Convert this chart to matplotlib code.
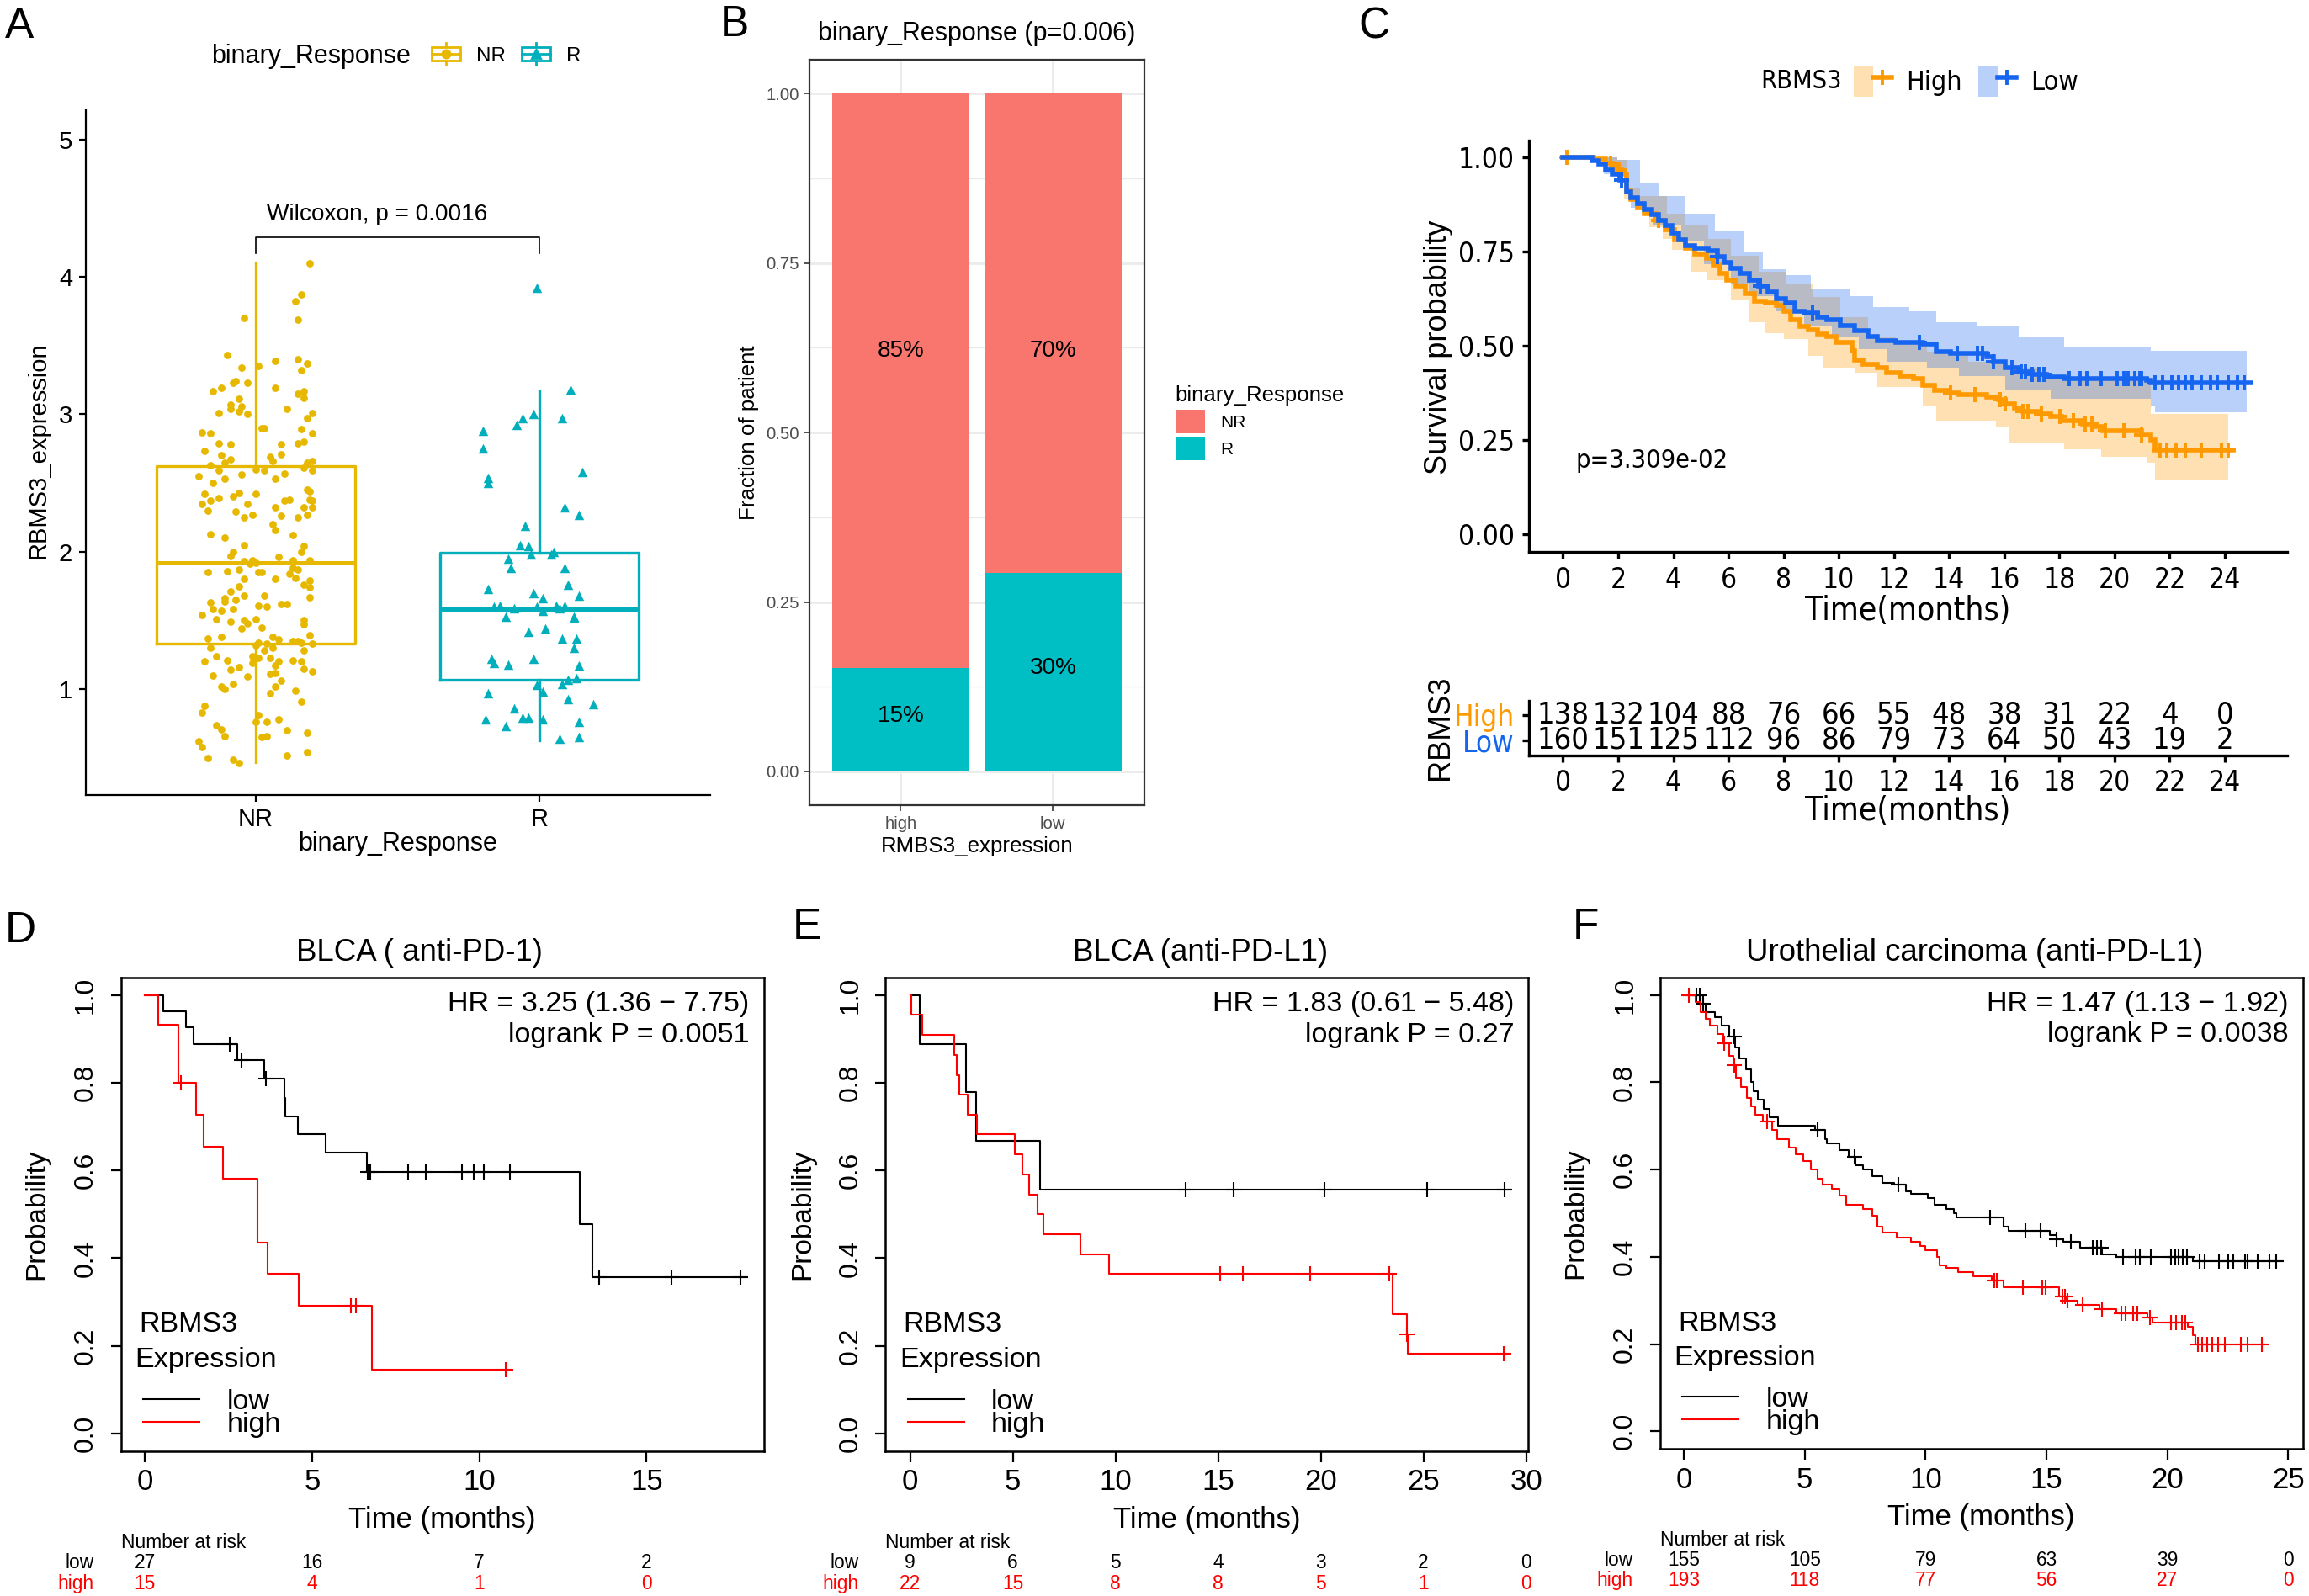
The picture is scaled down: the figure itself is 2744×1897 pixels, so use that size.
import numpy as np
import matplotlib
matplotlib.use("Agg")
import matplotlib.pyplot as plt
from matplotlib import font_manager
from matplotlib.font_manager import FontProperties
from matplotlib.patches import Patch, Rectangle
from matplotlib.lines import Line2D
from matplotlib.legend_handler import HandlerBase, HandlerTuple
from matplotlib.ticker import FixedLocator
from matplotlib.transforms import blended_transform_factory

# ======================= DATA =======================
# ---- Panel A : RBMS3 expression by response ----
a_groups = ['NR', 'R']
a_pvalue = 'Wilcoxon, p = 0.0016'
# box stats: whisker low, Q1, median, Q3, whisker high
nr_box = [0.47, 1.33, 1.92, 2.62, 4.10]
r_box = [0.63, 1.07, 1.58, 1.99, 3.17]
nr_jitter = [0.19, 0.16, 0.14, -0.04, 0.15, -0.10, -0.05, 0.01, 0.07, 0.15, 0.18, 0.16, -0.15, -0.12, -0.08, -0.07,
             -0.03, 0.07, 0.15, 0.17, 0.17, -0.06, -0.09, -0.09, -0.05, -0.06, -0.03, -0.13, 0.11, 0.20, 0.18, -0.19,
             -0.16, 0.02, 0.03, 0.16, 0.20, -0.13, -0.09, 0.09, 0.15, 0.17, -0.18, -0.12, -0.09, -0.11, 0.05, 0.09,
             0.06, 0.18, 0.20, -0.16, -0.13, -0.20, -0.11, -0.05, 0.00, 0.03, 0.10, 0.17, 0.20, 0.07, -0.15, -0.18,
             -0.06, 0.00, -0.13, -0.08, -0.16, -0.19, -0.17, -0.03, -0.07, 0.10, 0.12, 0.07, 0.18, 0.19, 0.19, 0.20,
             0.17, 0.20, 0.18, 0.15, -0.01, -0.04, 0.09,
             0.07, 0.06, -0.16, -0.11, 0.13, -0.04, 0.17, 0.16, -0.08, -0.09, 0.08, -0.04, -0.01, -0.02, 0.00, 0.13,
             0.19, -0.17, -0.10, -0.06, 0.01, 0.02, 0.13, 0.15, 0.12, 0.14, 0.07, -0.04, -0.06, 0.17, 0.19, 0.19,
             -0.09, -0.11, -0.11, -0.07, -0.04, 0.03, 0.19, -0.16, -0.15, -0.12, -0.08, 0.01, 0.04, 0.09, 0.11, -0.19,
             -0.14, -0.09, -0.04, -0.03, -0.05, 0.00, 0.02, 0.17, 0.17, -0.17, -0.12, 0.06, 0.08, 0.19, -0.16, 0.00,
             0.01, 0.04, 0.06, 0.13, 0.15, 0.16, 0.20, 0.17, 0.03, -0.01, 0.01, -0.14, -0.18, -0.10, -0.01, 0.05,
             0.08, 0.07, 0.13, 0.16, 0.17, 0.20, -0.09, -0.06, -0.03, -0.15, 0.05, 0.07, 0.09, 0.07, -0.12, -0.11,
             -0.08, 0.05, 0.14, 0.16, -0.18, -0.19, 0.01, 0.00, 0.04, 0.08, -0.14, -0.12, -0.11, 0.02, 0.04, 0.11,
             0.18, -0.20, -0.19, -0.17, -0.08, -0.06, 0.11, 0.18]
nr_value = [4.10, 3.87, 3.82, 3.70, 3.69, 3.43, 3.34, 3.35, 3.39, 3.40, 3.37, 3.32, 3.17, 3.19, 3.23, 3.24,
            3.23, 3.19, 3.15, 3.17, 3.12, 3.11, 3.07, 3.04, 3.06, 3.02, 3.00, 3.01, 3.04, 3.01, 2.97, 2.87,
            2.86, 2.90, 2.90, 2.89, 2.86, 2.79, 2.78, 2.78, 2.79, 2.80, 2.73, 2.70, 2.67, 2.65, 2.69, 2.71,
            2.66, 2.65, 2.66, 2.63, 2.59, 2.55, 2.53, 2.56, 2.60, 2.59, 2.57, 2.61, 2.59, 2.53, 2.50, 2.42,
            2.43, 2.42, 2.39, 2.40, 2.37, 2.35, 2.30, 2.35, 2.29, 2.37, 2.38, 2.32, 2.45, 2.44, 2.38, 2.37,
            2.32, 2.32, 2.27, 2.25, 2.27, 2.25, 2.26,
            2.16, 2.20, 2.13, 2.10, 2.12, 2.05, 2.04, 2.00, 2.00, 1.97, 1.96, 1.93, 1.94, 1.91, 1.92, 1.94,
            1.94, 1.85, 1.86, 1.87, 1.85, 1.85, 1.88, 1.87, 1.84, 1.81, 1.80, 1.80, 1.75, 1.76, 1.79, 1.74,
            1.71, 1.66, 1.64, 1.65, 1.68, 1.68, 1.67, 1.63, 1.58, 1.57, 1.58, 1.61, 1.60, 1.62, 1.62, 1.54,
            1.51, 1.49, 1.50, 1.48, 1.44, 1.51, 1.45, 1.50, 1.47, 1.37, 1.38, 1.38, 1.36, 1.39, 1.30, 1.32,
            1.34, 1.33, 1.30, 1.35, 1.35, 1.34, 1.33, 1.28, 1.28, 1.24, 1.23, 1.24, 1.20, 1.21, 1.19, 1.23,
            1.20, 1.17, 1.21, 1.20, 1.15, 1.13, 1.14, 1.16, 1.09, 1.10, 1.11, 1.12, 1.06, 1.02, 1.02, 1.00,
            1.04, 0.97, 0.99, 0.91, 0.88, 0.83, 0.81, 0.76, 0.76, 0.78, 0.74, 0.71, 0.66, 0.65, 0.66, 0.70,
            0.68, 0.62, 0.58, 0.50, 0.49, 0.46, 0.52, 0.54]
r_jitter = [-0.01, 0.11, -0.02, -0.06, -0.08, 0.08, -0.20, -0.20, 0.15, -0.18, -0.18, 0.09, 0.14,
            -0.05, -0.07, -0.04, -0.03, 0.04, 0.05, -0.11, -0.10, 0.09, -0.18, 0.10, -0.02, 0.01, 0.14,
            -0.16, -0.14, -0.09, -0.01, 0.01, 0.06, 0.07, 0.09, 0.12, 0.12, -0.12, -0.04, 0.02, 0.08,
            0.13, 0.12, -0.17, -0.16, -0.11, -0.02, 0.14, 0.13, 0.10, 0.08, -0.01, 0.01, -0.18, 0.10,
            0.19, -0.09, -0.06, -0.04, 0.01, -0.19, -0.12, 0.14, 0.07, 0.14]
r_value = [3.92, 3.18, 3.00, 2.97, 2.92, 2.97, 2.88, 2.75, 2.58, 2.54, 2.50, 2.32, 2.27,
           2.19, 2.05, 2.04, 1.98, 1.98, 2.00, 1.95, 1.88, 1.88, 1.73, 1.76, 1.70, 1.66, 1.68,
           1.60, 1.61, 1.59, 1.60, 1.57, 1.61, 1.59, 1.61, 1.53, 1.52, 1.53, 1.42, 1.44, 1.37,
           1.37, 1.30, 1.22, 1.19, 1.18, 1.22, 1.17, 1.08, 1.07, 1.04, 1.03, 0.98, 0.97, 0.93,
           0.89, 0.86, 0.79, 0.79, 0.78, 0.78, 0.73, 0.76, 0.64, 0.65]

# ---- Panel B : response fraction ----
b_groups = ['high', 'low']
b_frac_R = [0.152, 0.293]
b_frac_NR = [0.848, 0.707]
b_lab_R = ['15%', '30%']
b_lab_NR = ['85%', '70%']
b_title = 'binary_Response (p=0.006)'

# ---- Panel C : KM with CI ----
c_pval = 'p=3.309e-02'
c_low_t = [0, 1.05, 1.30, 1.55, 1.80, 2.05, 2.29, 2.46, 2.71, 2.96, 3.21, 3.45, 3.70, 3.95, 4.20, 4.44, 4.77,
           5.27, 5.60, 5.85, 6.10, 6.43, 6.76, 7.09, 7.42, 7.75, 8.08, 8.42, 8.75, 9.24, 9.57, 10.07, 10.57,
           11.06, 11.39, 12.06, 13.05, 13.54, 14.04, 15.36, 15.61, 16.03, 16.52, 17.02, 17.52, 18.18, 21.15,
           21.32, 24.96]
c_low_s = [1.0, 0.992, 0.983, 0.968, 0.956, 0.940, 0.908, 0.893, 0.878, 0.863, 0.849, 0.834, 0.819, 0.800,
           0.782, 0.767, 0.759, 0.752, 0.737, 0.722, 0.707, 0.692, 0.674, 0.659, 0.644, 0.625, 0.614, 0.592,
           0.588, 0.577, 0.570, 0.555, 0.540, 0.525, 0.514, 0.510, 0.506, 0.484, 0.480, 0.472, 0.458, 0.443,
           0.432, 0.424, 0.417, 0.413, 0.409, 0.402, 0.402]
c_low_cens = [2.13, 5.60, 7.17, 9.04, 12.92, 14.29, 15.03, 15.20, 15.61, 16.27, 16.61, 16.77, 17.02, 17.27,
              17.43, 18.34, 18.76, 19.00, 19.50, 20.08, 20.33, 20.49, 20.74, 20.91, 20.99, 21.48, 21.73, 22.07,
              22.31, 22.56, 22.81, 23.14, 23.47, 23.72, 24.13, 24.46, 24.71]
c_low_up_t = [0, 1.96, 2.79, 3.45, 4.44, 5.52, 6.59, 7.26, 8.08, 8.99, 10.40, 11.23, 12.55, 13.54, 15.03, 16.52,
              18.18, 21.32, 24.79]
c_low_up = [1.0, 0.994, 0.934, 0.897, 0.852, 0.807, 0.748, 0.704, 0.689, 0.651, 0.633, 0.603, 0.592, 0.562,
            0.555, 0.525, 0.499, 0.488, 0.488]
c_low_lo_t = [0, 1.47, 2.21, 2.46, 3.29, 4.28, 5.11, 6.10, 6.76, 7.75, 8.75, 9.74, 10.73, 11.72, 13.21, 14.37,
              16.03, 17.68, 19.33, 21.32, 21.48, 24.79]
c_low_lo = [1.0, 0.957, 0.908, 0.867, 0.822, 0.778, 0.718, 0.666, 0.633, 0.592, 0.555, 0.525, 0.491, 0.458,
            0.443, 0.421, 0.384, 0.361, 0.361, 0.343, 0.324, 0.324]
c_high_t = [0, 1.13, 1.55, 1.80, 1.96, 2.13, 2.29, 2.46, 2.71, 2.96, 3.37, 3.70, 4.04, 4.44, 4.77, 5.19, 5.44,
            5.69, 5.93, 6.27, 6.60, 6.93, 7.34, 7.75, 8.00, 8.25, 8.58, 8.91, 9.24, 9.57, 9.90, 10.48, 10.56,
            10.89, 11.39, 11.72, 12.22, 12.71, 13.05, 13.46, 13.96, 14.37, 15.36, 15.78, 16.03, 16.36, 16.69,
            17.26, 17.68, 18.09, 18.84, 19.33, 19.58, 20.99, 21.32, 21.48, 24.30]
c_high_s = [1.0, 0.997, 0.986, 0.979, 0.968, 0.956, 0.912, 0.889, 0.867, 0.852, 0.834, 0.808, 0.782, 0.759,
            0.744, 0.733, 0.714, 0.692, 0.674, 0.659, 0.640, 0.618, 0.614, 0.607, 0.592, 0.570, 0.551, 0.544,
            0.532, 0.525, 0.510, 0.488, 0.462, 0.451, 0.443, 0.428, 0.421, 0.413, 0.395, 0.383, 0.376, 0.372,
            0.365, 0.357, 0.346, 0.335, 0.327, 0.320, 0.313, 0.302, 0.294, 0.287, 0.276, 0.264, 0.250, 0.224,
            0.224]
c_high_cens = [0.14, 1.72, 2.04, 3.45, 14.04, 14.95, 15.86, 16.03, 16.69, 16.85, 17.35, 18.01, 18.51, 18.92,
               19.17, 19.66, 20.33, 20.99, 21.65, 21.90, 22.23, 22.56, 23.14, 23.88, 24.13]
c_high_up_t = [0, 1.96, 2.29, 2.79, 3.78, 4.44, 5.27, 6.10, 7.09, 8.08, 9.08, 10.07, 11.06, 12.06, 13.21, 14.70,
               16.03, 17.35, 18.18, 20.99, 21.32, 24.13]
c_high_up = [1.0, 0.994, 0.919, 0.897, 0.852, 0.822, 0.785, 0.740, 0.696, 0.666, 0.629, 0.577, 0.525, 0.510,
             0.484, 0.458, 0.443, 0.421, 0.413, 0.406, 0.320, 0.320]
c_high_lo_t = [0, 1.63, 2.21, 2.62, 3.12, 3.62, 3.95, 4.61, 5.19, 6.10, 6.76, 7.34, 8.00, 8.91, 9.41, 10.57,
               11.39, 13.05, 13.54, 15.69, 16.19, 18.18, 19.50, 21.15, 21.48, 24.13]
c_high_lo = [1.0, 0.971, 0.889, 0.860, 0.815, 0.785, 0.755, 0.696, 0.674, 0.622, 0.562, 0.533, 0.518, 0.473,
             0.443, 0.428, 0.391, 0.339, 0.302, 0.287, 0.242, 0.227, 0.205, 0.190, 0.146, 0.146]
c_risk_times = [0, 2, 4, 6, 8, 10, 12, 14, 16, 18, 20, 22, 24]
c_risk_high = [138, 132, 104, 88, 76, 66, 55, 48, 38, 31, 22, 4, 0]
c_risk_low = [160, 151, 125, 112, 96, 86, 79, 73, 64, 50, 43, 19, 2]

# ---- Panel D : BLCA (anti-PD-1) ----
d_low_t = [0, 0.55, 1.22, 1.46, 2.76, 3.58, 4.17, 4.20, 4.58, 5.41, 6.65, 13.0, 13.39, 17.97]
d_low_s = [1.0, 0.963, 0.927, 0.889, 0.851, 0.810, 0.766, 0.724, 0.682, 0.640, 0.596, 0.477, 0.357, 0.357]
d_low_cens = [2.53, 2.88, 3.62, 6.67, 6.74, 7.87, 8.41, 9.47, 9.84, 10.14, 10.91, 13.57, 15.74, 17.8]
d_high_t = [0, 0.40, 1.01, 1.54, 1.77, 2.33, 3.37, 3.38, 3.68, 4.59, 6.80, 10.96]
d_high_s = [1.0, 0.933, 0.800, 0.728, 0.654, 0.582, 0.509, 0.436, 0.364, 0.291, 0.146, 0.146]
d_high_cens = [1.09, 6.17, 6.31, 10.8]
d_risk_t = [0, 5, 10, 15]
d_risk_low = [27, 16, 7, 2]
d_risk_high = [15, 4, 1, 0]

# ---- Panel E : BLCA (anti-PD-L1) ----
e_low_t = [0, 0.46, 2.71, 3.22, 6.34, 29.23]
e_low_s = [1.0, 0.889, 0.778, 0.667, 0.556, 0.556]
e_low_cens = [13.4, 15.76, 20.18, 25.17, 28.95]
e_high_t = [0, 0.05, 0.58, 2.16, 2.26, 2.38, 2.79, 3.24, 5.09, 5.48, 5.79, 6.22, 6.49, 8.31, 9.70, 23.49,
            24.20, 24.22, 29.16]
e_high_s = [1.0, 0.955, 0.909, 0.864, 0.818, 0.773, 0.727, 0.682, 0.636, 0.591, 0.545, 0.500, 0.455, 0.409,
            0.364, 0.273, 0.227, 0.182, 0.182]
e_high_cens = [15.09, 16.19, 19.48, 23.32, 24.21, 28.9]
e_risk_t = [0, 5, 10, 15, 20, 25, 30]
e_risk_low = [9, 6, 5, 4, 3, 2, 0]
e_risk_high = [22, 15, 8, 8, 5, 1, 0]

# ---- Panel F : Urothelial carcinoma (anti-PD-L1) ----
f_low_t = [0, 0.69, 0.89, 1.28, 1.58, 1.88, 2.11, 2.31, 2.57, 2.77, 2.87, 3.06, 3.30, 3.56, 3.89, 5.43, 5.83,
           5.93, 6.42, 6.82, 7.11, 7.41, 7.81, 8.2, 8.7, 9.19, 9.39, 10.08, 10.38, 10.87, 11.17, 11.26, 13.24,
           13.44, 15.12, 15.42, 15.71, 16.4, 17.29, 17.89, 21.05, 24.76]
f_low_s = [1.0, 0.98, 0.96, 0.95, 0.93, 0.905, 0.88, 0.855, 0.83, 0.80, 0.78, 0.76, 0.74, 0.72, 0.70, 0.69,
           0.67, 0.66, 0.645, 0.63, 0.61, 0.60, 0.585, 0.57, 0.565, 0.55, 0.545, 0.535, 0.52, 0.51, 0.50, 0.49,
           0.47, 0.46, 0.45, 0.44, 0.435, 0.42, 0.405, 0.40, 0.39, 0.39]
f_low_cens = [0.53, 0.65, 0.79, 2.08, 5.53, 7.06, 8.89, 12.65, 14.13, 14.76, 15.42, 16.01, 16.9, 17.09, 17.25,
              18.18, 18.68, 18.87, 19.33, 20.16, 20.32, 20.45, 20.65, 20.81, 21.34, 21.54, 22.13, 22.53, 22.73,
              23.22, 23.32, 23.72, 24.21, 24.51]
f_high_t = [0, 0.49, 0.69, 0.89, 1.09, 1.38, 1.64, 1.88, 2.04, 2.17, 2.37, 2.61, 2.77, 2.96, 3.26, 3.66, 3.85,
            4.35, 4.64, 4.94, 5.24, 5.53, 5.73, 6.13, 6.42, 6.72, 7.41, 7.81, 8.0, 8.2, 8.79, 9.39, 9.78, 9.98,
            10.47, 10.57, 10.87, 11.36, 11.96, 12.75, 13.24, 15.51, 15.81, 16.3, 17.19, 17.89, 19.17, 19.37,
            20.85, 21.05, 21.17, 24.11]
f_high_s = [1.0, 0.985, 0.96, 0.945, 0.93, 0.91, 0.89, 0.86, 0.84, 0.81, 0.79, 0.765, 0.745, 0.725, 0.71, 0.69,
            0.67, 0.65, 0.635, 0.62, 0.60, 0.58, 0.565, 0.555, 0.54, 0.52, 0.51, 0.495, 0.47, 0.455, 0.445, 0.435,
            0.425, 0.415, 0.40, 0.38, 0.375, 0.365, 0.355, 0.345, 0.33, 0.31, 0.30, 0.29, 0.28, 0.27, 0.26, 0.25,
            0.24, 0.22, 0.20, 0.20]
f_high_cens = [0.2, 1.68, 2.08, 3.46, 12.85, 12.94, 14.03, 14.82, 14.96, 15.67, 15.77, 15.87, 16.5, 17.29, 18.08,
               18.28, 18.58, 18.77, 19.27, 20.16, 20.36, 20.61, 20.75, 21.25, 21.44, 21.64, 21.84, 22.08, 22.37,
               23.02, 23.32, 23.91]
f_risk_t = [0, 5, 10, 15, 20, 25]
f_risk_low = [155, 105, 79, 63, 39, 0]
f_risk_high = [193, 118, 77, 56, 27, 0]

# ======================= STYLE / LAYOUT =======================
plt.rcParams['font.family'] = ['Liberation Sans', 'DejaVu Sans']


def _find_narrow():
    best = None
    for f in font_manager.fontManager.ttflist:
        nm = f.name
        st = f.stretch
        condensed = ('Narrow' in nm or 'Condensed' in nm or
                     (isinstance(st, str) and 'condensed' in st) or
                     (isinstance(st, (int, float)) and st < 500))
        if not condensed or f.style != 'normal':
            continue
        w = f.weight
        if not (w in (400, 'normal', 'regular', 'book')):
            continue
        rank = 0 if 'Liberation Sans Narrow' in nm else (1 if 'Arial' in nm else 2)
        if best is None or rank < best[0]:
            best = (rank, f.fname)
    return best[1] if best else None


NARROW_PATH = _find_narrow()


def nfp(size):
    if NARROW_PATH:
        return FontProperties(fname=NARROW_PATH, size=size)
    return FontProperties(family='Liberation Sans', size=size * 0.9)


W, H = 1568.0, 1084.0
fig = plt.figure(figsize=(13.72, 9.485), dpi=200)


def add_ax(l, r, t, b):
    return fig.add_axes([l / W, 1 - b / H, (r - l) / W, (b - t) / H])


def step_xy(t, s):
    t = np.asarray(t, float)
    s = np.asarray(s, float)
    return np.repeat(t, 2)[1:], np.repeat(s, 2)[:-1]


def censor_y(t, s, ct):
    t = np.asarray(t, float)
    s = np.asarray(s, float)
    idx = np.searchsorted(t, np.asarray(ct, float), side='right') - 1
    return s[np.clip(idx, 0, len(s) - 1)]


# ---------------- Panel A ----------------
A_COL = {'NR': '#E7B800', 'R': '#00AFBB'}
axA = add_ax(58, 482, 75, 540)
for i, (g, bx) in enumerate(zip(a_groups, [nr_box, r_box])):
    col = A_COL[g]
    st = dict(whislo=bx[0], q1=bx[1], med=bx[2], q3=bx[3], whishi=bx[4], fliers=[])
    axA.bxp([st], positions=[i + 1], widths=0.7, showfliers=False, showcaps=False,
            boxprops=dict(color=col, lw=1.2), whiskerprops=dict(color=col, lw=1.2),
            medianprops=dict(color=col, lw=1.8), manage_ticks=False)
axA.scatter(1 + np.asarray(nr_jitter), nr_value, s=10, marker='o', color=A_COL['NR'], lw=0, zorder=3)
axA.scatter(2 + np.asarray(r_jitter), r_value, s=17, marker='^', color=A_COL['R'], lw=0, zorder=3)
axA.set_xlim(0.4, 2.6)
axA.set_ylim(0.23, 5.21)
axA.set_xticks([1, 2])
axA.set_xticklabels(a_groups)
axA.set_yticks([1, 2, 3, 4, 5])
axA.spines[['top', 'right']].set_visible(False)
for s_ in ['left', 'bottom']:
    axA.spines[s_].set_linewidth(0.8)
axA.tick_params(length=3, width=0.8, labelsize=10.5, pad=2.5)
axA.set_xlabel('binary_Response', fontsize=11, va='center')
axA.xaxis.set_label_coords(0.5, -0.071)
axA.set_ylabel('RBMS3_expression', fontsize=10.5, va='center')
axA.yaxis.set_label_coords(-0.0755, 0.503)
axA.plot([1, 1, 2, 2], [4.17, 4.29, 4.29, 4.17], color='black', lw=0.6)
axA.text(1.04, 4.45, a_pvalue, fontsize=10.1, ha='left', va='center')


class BoxKey(HandlerBase):
    def create_artists(self, legend, orig_handle, xdescent, ydescent, width, height, fontsize, trans):
        col = orig_handle.get_color()
        x0, y0 = -xdescent, -ydescent
        wl = Line2D([x0 + width / 2] * 2, [y0 - 0.25 * height, y0 + 1.25 * height], color=col, lw=1.0,
                    transform=trans)
        r = Rectangle((x0, y0 + 0.05 * height), width, 0.9 * height, fc='white', ec=col, lw=1.0, transform=trans)
        md = Line2D([x0, x0 + width], [y0 + height / 2] * 2, color=col, lw=1.0, transform=trans)
        pt = Line2D([x0 + width / 2], [y0 + height / 2], marker=orig_handle.get_marker(), color=col, ms=3.3,
                    lw=0, transform=trans)
        return [wl, r, md, pt]


fig.text(211 / W, 1 - 38 / H, 'binary_Response', fontsize=11, ha='center', va='center')
hA = [Line2D([], [], color=A_COL['NR'], marker='o'), Line2D([], [], color=A_COL['R'], marker='^')]
fig.legend(hA, a_groups, loc='center left', bbox_to_anchor=(293 / W, 1 - 38 / H), ncol=2, frameon=False,
           fontsize=8.7, handlelength=1.4, handleheight=0.75, handletextpad=0.8, columnspacing=0.8,
           borderpad=0, borderaxespad=0, handler_map={Line2D: BoxKey()})

# ---------------- Panel B ----------------
B_COL = {'NR': '#F8766D', 'R': '#00BFC4'}
axB = add_ax(549.7, 777, 40.5, 547)
xb = np.arange(1, len(b_groups) + 1)
axB.bar(xb, b_frac_R, width=0.9, color=B_COL['R'], zorder=2)
axB.bar(xb, b_frac_NR, width=0.9, bottom=b_frac_R, color=B_COL['NR'], zorder=2)
for xi, fr, lr, ln in zip(xb, b_frac_R, b_lab_R, b_lab_NR):
    axB.text(xi, fr / 2 + 0.006, lr, ha='center', va='center', fontsize=10, zorder=3)
    axB.text(xi, 0.62, ln, ha='center', va='center', fontsize=10, zorder=3)
axB.set_xlim(0.4, 2.6)
axB.set_ylim(-0.05, 1.05)
axB.set_xticks(xb)
axB.set_xticklabels(b_groups)
axB.set_yticks([0, 0.25, 0.5, 0.75, 1.0])
axB.set_yticklabels(['0.00', '0.25', '0.50', '0.75', '1.00'])
axB.yaxis.set_minor_locator(FixedLocator([0.125, 0.375, 0.625, 0.875]))
axB.grid(which='major', color='#EBEBEB', lw=1.0)
axB.grid(which='minor', axis='y', color='#EBEBEB', lw=0.5)
axB.set_axisbelow(True)
for sp in axB.spines.values():
    sp.set_color('#333333')
    sp.set_linewidth(0.8)
axB.tick_params(which='major', length=2.5, width=0.6, color='#333333', labelcolor='#4D4D4D', labelsize=7.3,
                pad=2)
axB.tick_params(which='minor', length=0)
axB.set_xlabel('RMBS3_expression', fontsize=9.3, va='center')
axB.xaxis.set_label_coords(0.5, -0.0553)
axB.set_ylabel('Fraction of patient', fontsize=9.3, va='center')
axB.yaxis.set_label_coords(-0.181, 0.5)
axB.text(0.5, 1.0345, b_title, transform=axB.transAxes, ha='center', va='center', fontsize=11)
hB = [Patch(facecolor=B_COL['NR']), Patch(facecolor=B_COL['R'])]
axB.legend(hB, ['NR', 'R'], title='binary_Response', loc='upper left',
           bbox_to_anchor=((798 - 549.7) / 227.3, (547 - 262) / 506.5), frameon=False, fontsize=7.5,
           title_fontsize=9.3, handlelength=1.7, handleheight=1.7, labelspacing=0.2, borderpad=0,
           borderaxespad=0, alignment='left', handletextpad=0.9)

# ---------------- Panel C ----------------
C_COL = {'High': '#FF9900', 'Low': '#1565F0'}
axC = add_ax(1038, 1553, 95.5, 375)
groupsC = [('High', c_high_t, c_high_s, c_high_cens, c_high_up_t, c_high_up, c_high_lo_t, c_high_lo),
           ('Low', c_low_t, c_low_s, c_low_cens, c_low_up_t, c_low_up, c_low_lo_t, c_low_lo)]
for g, t, s, ct, ut, us, lt, ls_ in groupsC:
    col = C_COL[g]
    ux, uy = step_xy(ut, us)
    lx, ly = step_xy(lt, ls_)
    axC.fill(np.concatenate([ux, lx[::-1]]), np.concatenate([uy, ly[::-1]]), color=col, alpha=0.3, lw=0)
    sx, sy = step_xy(t, s)
    axC.plot(sx, sy, color=col, lw=2.0, solid_joinstyle='miter')
    axC.plot(ct, censor_y(t, s, ct), ls='none', marker='+', color=col, ms=6.5, mew=1.4)
axC.set_xlim(-1.25, 26.25)
axC.set_ylim(-0.047, 1.045)
axC.set_xticks(c_risk_times)
axC.set_yticks([0, 0.25, 0.5, 0.75, 1.0])
axC.set_yticklabels(['0.00', '0.25', '0.50', '0.75', '1.00'])
axC.spines[['top', 'right']].set_visible(False)
for s_ in ['left', 'bottom']:
    axC.spines[s_].set_linewidth(1.2)
axC.tick_params(length=3, width=1.2, pad=3)
for lab in axC.get_xticklabels() + axC.get_yticklabels():
    lab.set_fontproperties(nfp(12))
axC.set_xlabel('Time(months)', fontproperties=nfp(14), va='center')
axC.xaxis.set_label_coords(0.5, -0.143)
axC.set_ylabel('Survival probability', fontsize=13, va='center')
axC.yaxis.set_label_coords(-0.119, 0.497)
axC.text(0.46, 0.195, c_pval, fontproperties=nfp(11), ha='left', va='center')

hC = [(Patch(facecolor=C_COL[g], alpha=0.3, lw=0),
       Line2D([], [], color=C_COL[g], lw=2.0, marker='+', ms=6.5, mew=1.4)) for g in ['High', 'Low']]
fig.text(1251 / W, 1 - 55 / H, 'RBMS3', fontproperties=nfp(11), ha='right', va='center')
fig.legend(hC, ['High', 'Low'], loc='center left', bbox_to_anchor=(1259 / W, 1 - 55 / H), ncol=2,
           frameon=False, prop=nfp(11.5), handlelength=1.4, handleheight=1.4,
           handletextpad=0.55, columnspacing=0.6, borderpad=0, borderaxespad=0,
           handler_map={tuple: HandlerTuple(ndivide=None)})

axR = add_ax(1038, 1553, 476, 513)
axR.set_xlim(-1.25, 26.25)
axR.set_ylim(0.41, 2.56)
for t, nh, nl in zip(c_risk_times, c_risk_high, c_risk_low):
    axR.text(t, 2, str(nh), ha='center', va='center', fontproperties=nfp(13))
    axR.text(t, 1, str(nl), ha='center', va='center', fontproperties=nfp(13))
axR.set_xticks(c_risk_times)
axR.set_yticks([2, 1])
axR.set_yticklabels(['High', 'Low'])
axR.spines[['top', 'right']].set_visible(False)
for s_ in ['left', 'bottom']:
    axR.spines[s_].set_linewidth(1.2)
axR.tick_params(length=3, width=1.2, pad=3)
for lab in axR.get_xticklabels():
    lab.set_fontproperties(nfp(12))
for lab, g in zip(axR.get_yticklabels(), ['High', 'Low']):
    lab.set_fontproperties(nfp(12.5))
    lab.set_color(C_COL[g])
axR.set_xlabel('Time(months)', fontproperties=nfp(14), va='center')
axR.xaxis.set_label_coords(0.5, -1.027)
axR.set_ylabel('RBMS3', fontsize=13, va='center')
axR.yaxis.set_label_coords(-0.1165, 0.505)


# ---------------- Panels D/E/F ----------------
def base_km(rect, title, title_x, lo, hi, hr, lp, xlim, xticks, rt, r_lo, r_hi, ylab_x):
    ax = add_ax(*rect)
    for (t, s, ct), col in [(lo, 'black'), (hi, 'red')]:
        sx, sy = step_xy(t, s)
        ax.plot(sx, sy, color=col, lw=0.75)
        ax.plot(ct, censor_y(t, s, ct), ls='none', marker='+', color=col, ms=6.5, mew=0.75)
    ax.set_xlim(*xlim)
    ax.set_ylim(-0.04, 1.04)
    ax.set_xticks(xticks)
    yt = [0, 0.2, 0.4, 0.6, 0.8, 1.0]
    ax.set_yticks(yt)
    ax.set_yticklabels([f'{v:.1f}' for v in yt], rotation=90, va='center')
    for sp in ax.spines.values():
        sp.set_linewidth(0.9)
    ax.tick_params(axis='x', length=4.5, width=0.8, labelsize=12.5, pad=3)
    ax.tick_params(axis='y', length=4.5, width=0.8, labelsize=11.5, pad=5)
    ax.set_xlabel('Time (months)', fontsize=12.5, va='center')
    ax.xaxis.set_label_coords(0.5, -0.145)
    ax.set_ylabel('Probability', fontsize=12, va='center')
    ax.yaxis.set_label_coords(ylab_x, 0.5)
    ax.text(title_x, 1.053, title, transform=ax.transAxes, ha='center', va='center', fontsize=13.2)
    ax.text(0.978, 0.944, hr, transform=ax.transAxes, ha='right', va='center', fontsize=12.3)
    ax.text(0.978, 0.879, lp, transform=ax.transAxes, ha='right', va='center', fontsize=12.3)
    ax.text(0.028, 0.266, 'RBMS3', transform=ax.transAxes, ha='left', va='center', fontsize=12.3)
    ax.text(0.022, 0.192, 'Expression', transform=ax.transAxes, ha='left', va='center', fontsize=12.3)
    hh = [Line2D([], [], color='black', lw=0.75), Line2D([], [], color='red', lw=0.75)]
    ax.legend(hh, ['low', 'high'], loc='lower left', bbox_to_anchor=(0.035, 0.028), frameon=False,
              fontsize=12.3, handlelength=1.95, handletextpad=0.95, labelspacing=-0.12, borderpad=0,
              borderaxespad=0)
    trans = blended_transform_factory(ax.transData, ax.transAxes)
    ax.text(0.0, -0.194, 'Number at risk', transform=ax.transAxes, ha='left', va='center', fontsize=8.2)
    ax.text(-0.042, -0.237, 'low', transform=ax.transAxes, ha='right', va='center', fontsize=8.2)
    ax.text(-0.042, -0.28, 'high', transform=ax.transAxes, ha='right', va='center', fontsize=8.2, color='red')
    for x, a, b in zip(rt, r_lo, r_hi):
        ax.text(x, -0.237, str(a), transform=trans, ha='center', va='center', fontsize=8.2)
        ax.text(x, -0.28, str(b), transform=trans, ha='center', va='center', fontsize=8.2, color='red')
    return ax


base_km((82, 518.6, 664, 985.5), 'BLCA ( anti-PD-1)', 0.464,
        (d_low_t, d_low_s, d_low_cens), (d_high_t, d_high_s, d_high_cens),
        'HR = 3.25 (1.36 \u2212 7.75)', 'logrank P = 0.0051', (-0.72, 18.5), [0, 5, 10, 15],
        d_risk_t, d_risk_low, d_risk_high, -0.13)
base_km((601.3, 1037.8, 664, 985.5), 'BLCA (anti-PD-L1)', 0.49,
        (e_low_t, e_low_s, e_low_cens), (e_high_t, e_high_s, e_high_cens),
        'HR = 1.83 (0.61 \u2212 5.48)', 'logrank P = 0.27', (-1.2, 30.1), [0, 5, 10, 15, 20, 25, 30],
        e_risk_t, e_risk_low, e_risk_high, -0.129)
base_km((1127.2, 1563.8, 664, 984), 'Urothelial carcinoma (anti-PD-L1)', 0.49,
        (f_low_t, f_low_s, f_low_cens), (f_high_t, f_high_s, f_high_cens),
        'HR = 1.47 (1.13 \u2212 1.92)', 'logrank P = 0.0038', (-0.99, 25.6), [0, 5, 10, 15, 20, 25],
        f_risk_t, f_risk_low, f_risk_high, -0.131)

# ---------------- panel letters ----------------
for letter, (x, y) in zip('ABCDEF', [(13, 18), (499, 17), (933, 18), (14, 632), (548, 630), (1077, 630)]):
    fig.text(x / W, 1 - y / H, letter, fontsize=18.5, ha='center', va='center')

fig.savefig('out.png', dpi=200, facecolor='white')
